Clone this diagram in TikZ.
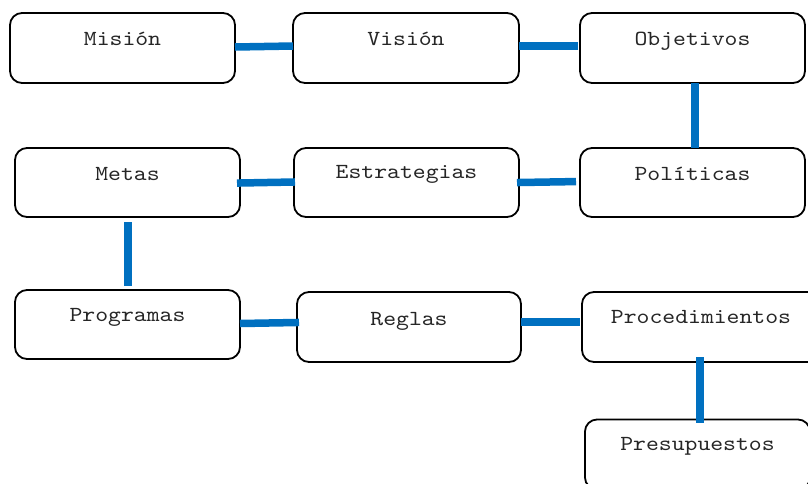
\documentclass[tikz,border=0pt]{standalone}
\usepackage{fontspec}
\setmonofont[FakeStretch=1.14]{lmmono10-regular.otf}
\usetikzlibrary{calc}
\definecolor{connblue}{HTML}{0070C0}
\begin{document}
\begin{tikzpicture}[x=1pt,y=-1pt,
  box/.style={draw=black,line width=1.8pt,rounded corners=12pt,fill=white,
    minimum width=225pt,minimum height=70pt,inner sep=0pt,outer sep=0pt},
  lbl/.style={anchor=base,inner sep=0pt,font=\ttfamily\fontsize{21.5}{24}\selectfont,text=black!85},
  conn/.style={draw=connblue,line width=7.5pt}]
\useasboundingbox (0,0) rectangle (808,483);
\clip (0,0) rectangle (808,483);
% boxes
\node[box] (mision) at (122.5,48) {};
\node[box,minimum width=226pt] (vision) at (406,48) {};
\node[box] (objetivos) at (692.5,48) {};
\node[box,minimum height=69pt] (metas) at (127.5,182.5) {};
\node[box,minimum height=69pt] (estrategias) at (406.5,182.5) {};
\node[box,minimum height=69pt] (politicas) at (692.5,182.5) {};
\node[box,minimum height=69pt] (programas) at (127.5,324.5) {};
\node[box,minimum width=224pt] (reglas) at (409,327) {};
\node[box,minimum width=238pt] (procedimientos) at (701,327) {};
\node[box] (presupuestos) at (697.5,454.5) {};
% labels
\node[lbl] (tmision) at ($(mision.north)+(0,32)$) {Misión};
\node[lbl] (tvision) at ($(vision.north)+(0,32)$) {Visión};
\node[lbl] (tobjetivos) at ($(objetivos.north)+(0,32)$) {Objetivos};
\node[lbl] (tmetas) at ($(metas.north)+(0,32)$) {Metas};
\node[lbl] (testrategias) at ($(estrategias.north)+(0,30)$) {Estrategias};
\node[lbl] (tpoliticas) at ($(politicas.north)+(0,32)$) {Políticas};
\node[lbl] (tprogramas) at ($(programas.north)+(0,31)$) {Programas};
\node[lbl] (treglas) at ($(reglas.north)+(0,33)$) {Reglas};
\node[lbl] (tprocedimientos) at ($(procedimientos.north)+(0,31)$) {Procedimientos};
\node[lbl] (tpresupuestos) at ($(presupuestos.north)+(0,31)$) {Presupuestos};
% connectors
\draw[conn] ([yshift=1pt]mision.east) -- ([yshift=2pt]vision.west);
\draw[conn,shorten >=2pt] ([yshift=2pt]vision.east) -- ([yshift=2pt]objetivos.west);
\draw[conn] ([xshift=2.5pt]objetivos.south) -- ([xshift=2.5pt]politicas.north);
\draw[conn,shorten >=4pt,shorten <=-2pt] ([yshift=0pt]estrategias.east) -- ([yshift=1pt]politicas.west);
\draw[conn,shorten <=-3pt,shorten >=-1pt] ([yshift=-0.5pt]metas.east) -- ([yshift=0.5pt]estrategias.west);
\draw[conn,shorten <=5pt,shorten >=4pt] ([xshift=0.5pt]metas.south) -- ([xshift=0.5pt]programas.north);
\draw[conn,shorten >=-2pt] ([yshift=1pt]programas.east) -- ([yshift=4.5pt]reglas.west);
\draw[conn,shorten >=2pt] ([yshift=5pt]reglas.east) -- ([yshift=5pt]procedimientos.west);
\draw[conn,shorten <=-5pt,shorten >=-3pt] ([xshift=-1pt]procedimientos.south) -- ([xshift=2.5pt]presupuestos.north);
\end{tikzpicture}
\end{document}
